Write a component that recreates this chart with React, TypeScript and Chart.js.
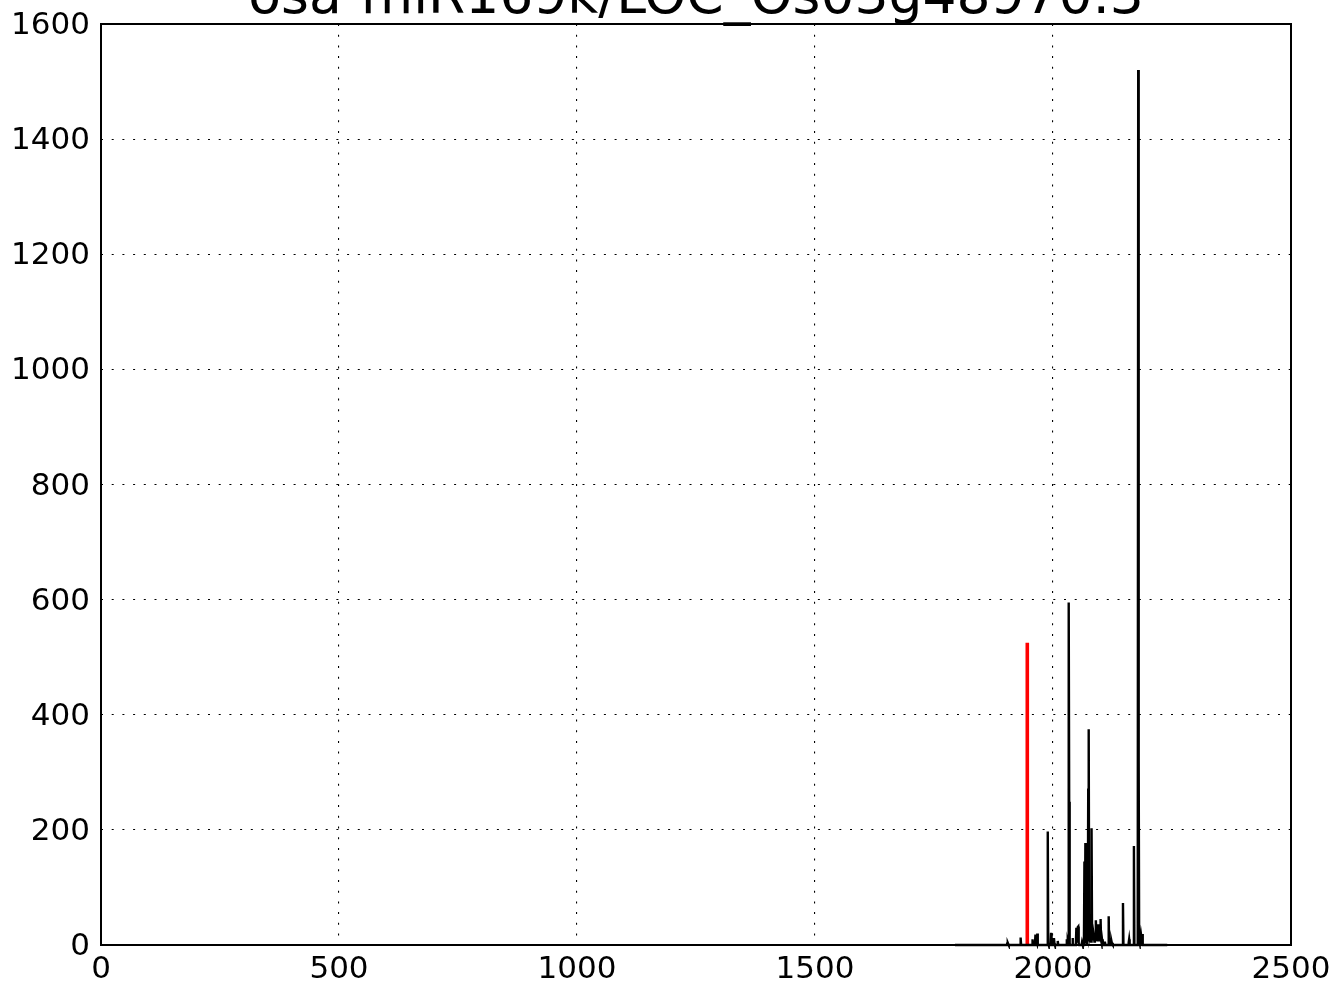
import React, { useEffect, useRef } from "react";
import { Chart, registerables } from "chart.js";

Chart.register(...registerables);

const TITLE = "osa-miR169k/LOC_Os03g48970.3";

const X_TICKS = [0, 500, 1000, 1500, 2000, 2500];
const Y_TICKS = [0, 200, 400, 600, 800, 1000, 1200, 1400, 1600];

// positions along transcript and read counts (black trace)
const POSITIONS = [
  1794,
  1903, 1904, 1905, 1906, 1907,
  1931, 1932, 1933,
  1956, 1957, 1958,
  1962, 1963, 1964, 1965, 1966, 1967, 1968,
  1988, 1989, 1990, 1991,
  1995, 1996, 1997,
  2001, 2002, 2003, 2004,
  2009, 2010, 2011,
  2028, 2029, 2030, 2031, 2032, 2033, 2034, 2035, 2036,
  2040, 2041, 2042,
  2048, 2049, 2050, 2051, 2052, 2053, 2054, 2055,
  2060, 2061, 2062, 2063,
  2064, 2065, 2066, 2067, 2068, 2069, 2070, 2071, 2072, 2073, 2074, 2075, 2076,
  2077, 2078, 2079, 2080, 2081, 2082, 2083, 2084, 2085, 2086, 2087, 2088,
  2089, 2090, 2091, 2092, 2093, 2094, 2095, 2096, 2097, 2098, 2099, 2100,
  2101, 2102, 2103, 2104, 2105,
  2108, 2109, 2110,
  2116, 2117, 2118,
  2120, 2121, 2122, 2123, 2124, 2125, 2126,
  2146, 2147, 2148,
  2158, 2159, 2160, 2161, 2162,
  2169, 2170, 2171,
  2178, 2179, 2180, 2181, 2182, 2183, 2184, 2185, 2186, 2187, 2188, 2189,
  2240,
];

const COUNTS = [
  0,
  0, 3, 4, 2, 0,
  0, 13, 0,
  0, 10, 0,
  0, 16, 18, 4, 2, 20, 0,
  0, 197, 3, 0,
  0, 21, 0,
  0, 12, 3, 0,
  0, 7, 0,
  0, 10, 2, 4, 0, 595, 249, 3, 0,
  0, 12, 0,
  0, 28, 30, 6, 31, 32, 3, 0,
  0, 5, 0, 8,
  0, 3, 145, 10, 177, 6, 4, 12, 8, 20, 270, 375, 30,
  14, 18, 10, 6, 203, 25, 12, 8, 20, 14, 6, 10,
  14, 43, 20, 10, 8, 24, 36, 15, 8, 30, 12, 45,
  8, 4, 10, 2, 0,
  0, 6, 0,
  0, 50, 0,
  0, 5, 3, 6, 2, 4, 0,
  0, 73, 0,
  0, 4, 10, 2, 0,
  0, 172, 0,
  0, 1520, 320, 8, 4, 2, 10, 18, 12, 19, 16, 0,
  0,
];

// highlighted cleavage site (red trace)
const SITE_POSITIONS = [1946, 1946];
const SITE_COUNTS = [0, 525];

export default function App() {
  const canvasRef = useRef<HTMLCanvasElement | null>(null);

  useEffect(() => {
    document.body.style.margin = "0";
    const canvas = canvasRef.current;
    if (!canvas) return;

    const framePlugin = {
      id: "frameAndTitle",
      afterDatasetsDraw(chart: any) {
        const { ctx, chartArea } = chart;
        ctx.save();
        ctx.strokeStyle = "#000";
        ctx.lineWidth = 2;
        ctx.strokeRect(
          chartArea.left,
          chartArea.top,
          chartArea.right - chartArea.left,
          chartArea.bottom - chartArea.top
        );
        ctx.restore();
      },
      afterDraw(chart: any) {
        const { ctx, chartArea } = chart;
        ctx.save();
        ctx.fillStyle = "#000";
        ctx.font = '53.5px "DejaVu Sans"';
        ctx.textAlign = "center";
        ctx.textBaseline = "alphabetic";
        ctx.fillText(TITLE, (chartArea.left + chartArea.right) / 2, 13);
        ctx.restore();
      },
    };

    const tickFont = { family: "DejaVu Sans", size: 31 };
    const plain = (v: any) => String(v);

    const chart = new Chart(canvas, {
      type: "line",
      data: {
        datasets: [
          {
            label: "reads",
            data: POSITIONS.map((x, i) => ({ x, y: COUNTS[i] })),
            borderColor: "#000",
            borderWidth: 2.4,
            pointRadius: 0,
            tension: 0,
            fill: false,
            clip: 4,
          },
          {
            label: "site",
            data: SITE_POSITIONS.map((x, i) => ({ x, y: SITE_COUNTS[i] })),
            borderColor: "#ff0000",
            borderWidth: 3.6,
            pointRadius: 0,
            tension: 0,
            fill: false,
            clip: 4,
          },
        ],
      },
      plugins: [framePlugin],
      options: {
        animation: false,
        responsive: false,
        devicePixelRatio: 1,
        layout: { padding: { top: 24, right: 47, left: 0, bottom: 0 } },
        plugins: {
          legend: { display: false },
          title: { display: false },
          tooltip: { enabled: false },
        },
        scales: {
          x: {
            type: "linear",
            min: 0,
            max: 2500,
            afterBuildTicks: (scale: any) => {
              scale.ticks = X_TICKS.map((v) => ({ value: v }));
            },
            afterFit: (scale: any) => {
              scale.height = 41;
              scale.paddingLeft = 0;
              scale.paddingRight = 0;
            },
            ticks: {
              font: tickFont,
              color: "#000",
              padding: 6,
              maxRotation: 0,
              autoSkip: false,
              callback: plain,
            },
            grid: {
              color: "#000",
              lineWidth: 1.1,
              drawTicks: false,
            },
            border: { display: false, dash: [2, 8.7] },
          },
          y: {
            type: "linear",
            min: 0,
            max: 1600,
            afterBuildTicks: (scale: any) => {
              scale.ticks = Y_TICKS.map((v) => ({ value: v }));
            },
            afterFit: (scale: any) => {
              scale.width = 101;
              scale.paddingTop = 0;
              scale.paddingBottom = 0;
            },
            ticks: {
              font: tickFont,
              color: "#000",
              padding: 11,
              labelOffset: 2,
              autoSkip: false,
              callback: plain,
            },
            grid: {
              color: "#000",
              lineWidth: 1.1,
              drawTicks: false,
            },
            border: { display: false, dash: [2, 8.7] },
          },
        },
      },
    } as any);

    return () => {
      chart.destroy();
    };
  }, []);

  return (
    <div style={{ width: 1338, height: 986 }}>
      <canvas
        ref={canvasRef}
        width={1338}
        height={986}
        style={{ width: 1338, height: 986, display: "block" }}
      />
    </div>
  );
}
